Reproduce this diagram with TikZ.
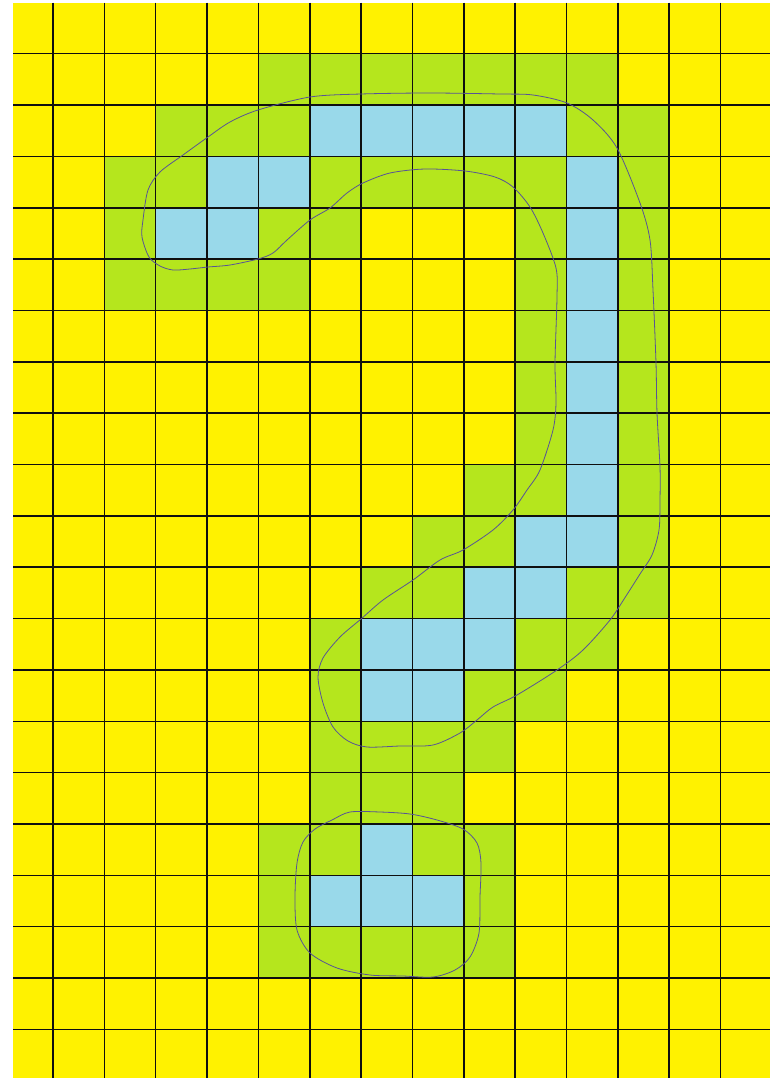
\documentclass[tikz,border=0pt]{standalone}
\usepackage{tikz}
\usepackage{xcolor}
\definecolor{cfield}{RGB}{255,242,0}
\definecolor{cnear}{RGB}{181,230,29}
\definecolor{chit}{RGB}{153,217,234}
\definecolor{cline}{RGB}{15,15,15}
\definecolor{ccurve}{RGB}{88,84,150}
\tikzset{
  qnear/.style={fill=cnear},
  qhit/.style={fill=chit},
  qgrid/.style={cline,line width=1.5pt},
  qloop/.style={ccurve,line width=0.8pt},
}
\begin{document}
\begin{tikzpicture}[x=1pt,y=-1pt]
  \useasboundingbox (0,0) rectangle (776,1078);
  \fill[cfield] (13,2.7) rectangle (770,1078);
  % cells next to the path
  \foreach \r/\a/\b in {1/5/11,2/3/12,3/2/12,4/2/6,4/10/12,5/2/5,5/10/12,6/10/12,
                        7/10/12,8/10/12,9/9/12,10/8/12,11/7/12,12/6/11,13/6/10,
                        14/6/9,15/6/8,16/5/9,17/5/9,18/5/9} {
    \foreach \c in {\a,...,\b}
      \fill[qnear] ({1.65+51.35*\c},{2.35+51.35*\r}) rectangle +(51.35,51.35);}
  % cells on the path
  \foreach \r/\a/\b in {2/6/10,3/4/5,3/11/11,4/3/4,4/11/11,5/11/11,6/11/11,7/11/11,
                        8/11/11,9/11/11,10/10/11,11/9/10,12/7/9,13/7/8,16/7/7,17/6/8} {
    \foreach \c in {\a,...,\b}
      \fill[qhit] ({1.65+51.35*\c},{2.35+51.35*\r}) rectangle +(51.35,51.35);}
  \foreach \k in {0,...,13}
    \draw[qgrid] ({53+51.35*\k},2.7) -- ({53+51.35*\k},1078);
  \foreach \k in {0,...,19}
    \draw[qgrid] (13,{53.7+51.35*\k}) -- (770,{53.7+51.35*\k});
  % hand drawn outlines
  \draw[qloop] plot[smooth cycle,tension=0.5] coordinates {
    (143,220) (148,190) (160,172) (183,155) (208,137) (230,122) (258,110)
    (310,97) (361,94) (430,93) (500,94) (533,95) (567,103) (593,120) (617,148)
    (640,203) (650,240) (653,290) (656,363) (657,413) (660,467) (660,500)
    (659,530) (652,555) (640,574) (626,596) (610,620) (583,650) (557,670)
    (517,695) (493,707) (477,720) (460,733) (433,745) (400,746) (367,747)
    (348,741) (333,727) (323,703) (318,677) (323,658) (340,637) (361,619)
    (383,600) (413,580) (440,560) (463,550) (493,530) (513,510) (527,490)
    (540,470) (553,430) (556,403) (555,363) (557,297) (556,268) (543,233)
    (530,207) (513,187) (495,177) (465,171) (425,169) (390,173) (363,183)
    (347,193) (330,208) (310,220) (287,240) (273,253) (258,259) (230,265)
    (208,267) (190,269) (173,270) (160,266) (149,257) (142,237)};
  \draw[qloop] plot[smooth cycle,tension=0.5] coordinates {
    (350,812) (380,812) (410,814) (437,820) (463,829) (477,843) (481,863)
    (480,897) (479,933) (470,957) (455,970) (433,977) (403,976) (370,975)
    (337,968) (310,953) (297,930) (295,897) (297,863) (303,842) (315,829)
    (332,820)};
\end{tikzpicture}
\end{document}
